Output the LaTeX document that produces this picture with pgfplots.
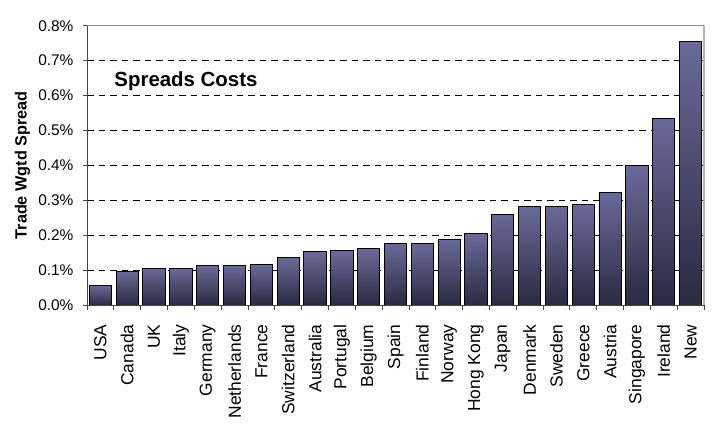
\documentclass[border=0pt]{standalone}
\usepackage{pgfplots}
\pgfplotsset{compat=1.18}
\usepackage{fontspec}
\setmainfont{Liberation Sans}

\definecolor{bartop}{RGB}{106,106,154}
\definecolor{barbot}{RGB}{42,42,66}
\definecolor{frametop}{RGB}{140,140,140}
\definecolor{frameright}{RGB}{180,180,180}
\definecolor{axisdark}{RGB}{70,70,70}

% one shaded bar per country, so every bar gets its own gradient
\pgfplotsset{cbar/.style={ybar, bar width=0.83, bar shift=0pt, draw=black,
  line width=0.9bp, top color=bartop, bottom color=barbot}}

\begin{document}
\begin{tikzpicture}
\useasboundingbox (0,0) rectangle (713bp,426bp);
\begin{axis}[
  at={(87bp,121bp)}, anchor=south west,
  scale only axis, width=617bp, height=279.3bp,
  xmin=-0.5, xmax=22.5, ymin=0, ymax=0.8,
  xtick={0,...,22},
  xticklabels={USA,Canada,UK,Italy,Germany,Netherlands,France,Switzerland,Australia,Portugal,Belgium,Spain,Finland,Norway,Hong Kong,Japan,Denmark,Sweden,Greece,Austria,Singapore,Ireland,New},
  minor xtick={-0.5,0.5,...,22.5},
  major x tick style={draw=none},
  minor x tick style={axisdark, line width=0.8bp},
  y tick style={axisdark, line width=0.8bp},
  minor tick length=5bp, major tick length=4bp,
  tick align=outside, xtick pos=left, ytick pos=left,
  ytick={0,0.1,0.2,0.3,0.4,0.5,0.6,0.7,0.8},
  /pgf/number format/assume math mode=true,
  yticklabel={\pgfmathprintnumber[fixed,fixed zerofill,precision=1]{\tick}\%},
  yticklabel style={font=\fontsize{15.5}{15.5}\selectfont},
  yticklabel shift=6bp,
  xticklabel style={font=\fontsize{17.5}{17.5}\selectfont, rotate=90, anchor=east},
  xticklabel shift=12bp,
  ymajorgrids,
  major grid style={black, line width=0.7bp, dash pattern=on 6.5bp off 5bp},
  axis line style={draw=none},
  ylabel={\bfseries Trade Wgtd Spread},
  ylabel style={font=\fontsize{16.3}{16.3}\selectfont, at={(axis description cs:-0.1045,0.5)}, anchor=center},
  clip=false,
]
\addplot[cbar] coordinates {(0,0.055)};
\addplot[cbar] coordinates {(1,0.097)};
\addplot[cbar] coordinates {(2,0.105)};
\addplot[cbar] coordinates {(3,0.105)};
\addplot[cbar] coordinates {(4,0.113)};
\addplot[cbar] coordinates {(5,0.113)};
\addplot[cbar] coordinates {(6,0.117)};
\addplot[cbar] coordinates {(7,0.137)};
\addplot[cbar] coordinates {(8,0.153)};
\addplot[cbar] coordinates {(9,0.157)};
\addplot[cbar] coordinates {(10,0.161)};
\addplot[cbar] coordinates {(11,0.177)};
\addplot[cbar] coordinates {(12,0.177)};
\addplot[cbar] coordinates {(13,0.189)};
\addplot[cbar] coordinates {(14,0.205)};
\addplot[cbar] coordinates {(15,0.258)};
\addplot[cbar] coordinates {(16,0.282)};
\addplot[cbar] coordinates {(17,0.282)};
\addplot[cbar] coordinates {(18,0.287)};
\addplot[cbar] coordinates {(19,0.323)};
\addplot[cbar] coordinates {(20,0.400)};
\addplot[cbar] coordinates {(21,0.535)};
\addplot[cbar] coordinates {(22,0.756)};
% plot-area frame: light top and right edges, dark axis lines
\draw[frametop, line width=1.2bp] (rel axis cs:0,1) -- (rel axis cs:1,1);
\draw[frameright, line width=2bp] (rel axis cs:1,1) -- (rel axis cs:1,0);
\draw[axisdark, line width=1bp] (rel axis cs:0,1) -- (rel axis cs:0,0) -- (rel axis cs:1,0);
\node[font=\fontsize{20.5}{20.5}\selectfont\bfseries] at (axis cs:3.19,0.641) {Spreads Costs};
\end{axis}
\end{tikzpicture}
\end{document}
